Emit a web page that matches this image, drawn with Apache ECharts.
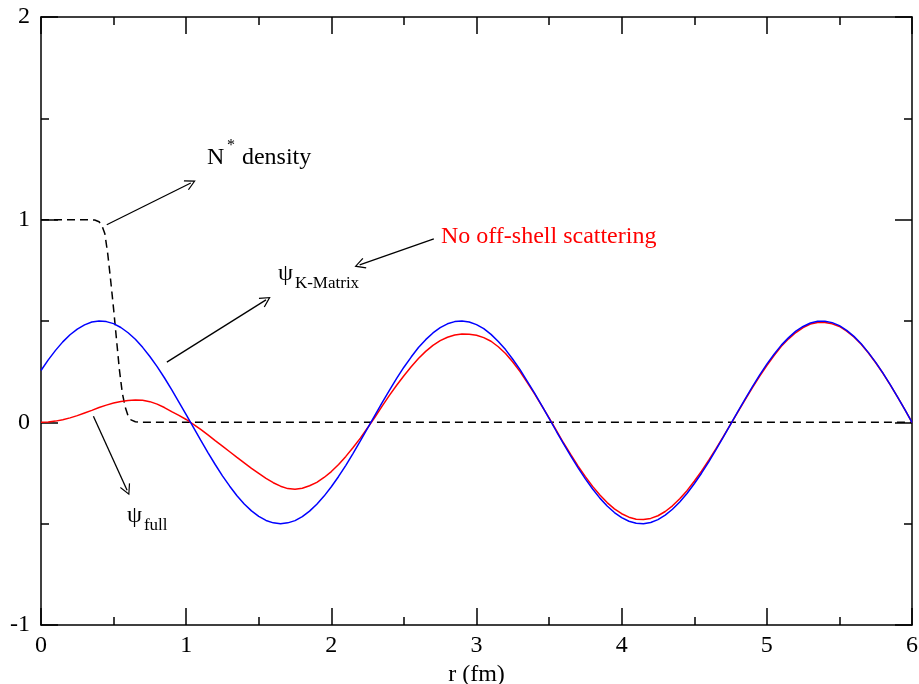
<!DOCTYPE html>
<html>
<head>
<meta charset="utf-8">
<title>N* density and wave functions</title>
<script src="https://cdn.jsdelivr.net/npm/echarts@6/dist/echarts.min.js"></script>
<style>
html,body{margin:0;padding:0;background:#fff;}
#main{width:919px;height:684px;}
</style>
</head>
<body>
<div id="main"></div>
<script>
// r grid (fm) for the two wave functions, step 0.05
var rVals = [0.00,0.05,0.10,0.15,0.20,0.25,0.30,0.35,0.40,0.45,
             0.50,0.55,0.60,0.65,0.70,0.75,0.80,0.85,0.90,0.95,
             1.00,1.05,1.10,1.15,1.20,1.25,1.30,1.35,1.40,1.45,
             1.50,1.55,1.60,1.65,1.70,1.75,1.80,1.85,1.90,1.95,
             2.00,2.05,2.10,2.15,2.20,2.25,2.30,2.35,2.40,2.45,
             2.50,2.55,2.60,2.65,2.70,2.75,2.80,2.85,2.90,2.95,
             3.00,3.05,3.10,3.15,3.20,3.25,3.30,3.35,3.40,3.45,
             3.50,3.55,3.60,3.65,3.70,3.75,3.80,3.85,3.90,3.95,
             4.00,4.05,4.10,4.15,4.20,4.25,4.30,4.35,4.40,4.45,
             4.50,4.55,4.60,4.65,4.70,4.75,4.80,4.85,4.90,4.95,
             5.00,5.05,5.10,5.15,5.20,5.25,5.30,5.35,5.40,5.45,
             5.50,5.55,5.60,5.65,5.70,5.75,5.80,5.85,5.90,5.95,
             6.00];

// psi K-Matrix (blue)
var psiKMatrix = [0.256,0.308,0.355,0.397,0.432,0.460,0.481,0.495,0.500,0.497,
                  0.487,0.468,0.442,0.410,0.370,0.325,0.275,0.220,0.161,0.100,
                  0.038,-0.025,-0.088,-0.149,-0.208,-0.264,-0.315,-0.362,-0.403,-0.437,
                  -0.464,-0.484,-0.496,-0.500,-0.496,-0.485,-0.465,-0.438,-0.404,-0.364,
                  -0.318,-0.267,-0.212,-0.153,-0.092,-0.029,0.034,0.097,0.158,0.217,
                  0.272,0.322,0.369,0.408,0.441,0.467,0.486,0.497,0.500,0.495,
                  0.482,0.462,0.434,0.399,0.359,0.311,0.260,0.202,0.144,0.083,
                  0.020,-0.044,-0.106,-0.167,-0.225,-0.279,-0.329,-0.374,-0.413,-0.445,
                  -0.470,-0.488,-0.498,-0.500,-0.494,-0.480,-0.458,-0.429,-0.393,-0.351,
                  -0.303,-0.251,-0.195,-0.135,-0.073,-0.010,0.053,0.115,0.175,0.233,
                  0.287,0.336,0.381,0.418,0.450,0.473,0.490,0.499,0.499,0.492,
                  0.477,0.454,0.424,0.388,0.344,0.296,0.243,0.186,0.126,0.064,
                  0.000];

// psi full (red)
var psiFull = [0.000,0.002,0.006,0.013,0.022,0.033,0.046,0.059,0.073,0.085,
               0.095,0.103,0.108,0.110,0.109,0.102,0.090,0.073,0.053,0.034,
               0.014,-0.010,-0.035,-0.062,-0.090,-0.117,-0.145,-0.173,-0.200,-0.227,
               -0.252,-0.277,-0.298,-0.315,-0.327,-0.330,-0.325,-0.313,-0.296,-0.272,
               -0.243,-0.208,-0.168,-0.124,-0.078,-0.027,0.025,0.080,0.133,0.183,
               0.230,0.274,0.315,0.350,0.380,0.403,0.420,0.431,0.436,0.435,
               0.430,0.418,0.400,0.373,0.340,0.298,0.250,0.196,0.140,0.081,
               0.022,-0.040,-0.102,-0.160,-0.216,-0.268,-0.316,-0.359,-0.396,-0.427,
               -0.451,-0.468,-0.478,-0.480,-0.474,-0.461,-0.440,-0.412,-0.377,-0.337,
               -0.291,-0.241,-0.187,-0.130,-0.070,-0.010,0.050,0.111,0.170,0.227,
               0.280,0.330,0.375,0.412,0.443,0.467,0.485,0.493,0.493,0.486,
               0.473,0.450,0.421,0.385,0.342,0.294,0.242,0.185,0.126,0.064,
               0.000];

// N* density (dashed)
var densR = [0, 0.32, 0.37, 0.40, 0.42, 0.44, 0.46, 0.48, 0.50, 0.52, 0.54, 0.56, 0.58, 0.60, 0.62, 0.65, 0.70, 6.0];
var densV = [1, 1, 0.998, 0.99, 0.97, 0.93, 0.83, 0.70, 0.56, 0.41, 0.26, 0.145, 0.075, 0.032, 0.012, 0.003, 0, 0];

// annotation arrows [from, to] in data units
var arrows = [
  [[0.453, 0.975], [1.032, 1.181]],
  [[0.867, 0.297], [1.550, 0.604]],
  [[2.706, 0.905], [2.195, 0.777]],
  [[0.361, 0.030], [0.593, -0.335]]
];

// annotation texts: anchor in data units, pixel offset from anchor
var notes = [
  {at: [1.143, 1.307], dx: 0,  dy: 0,   text: 'N',        size: 24, color: '#000'},
  {at: [1.143, 1.307], dx: 20, dy: -12, text: '*',        size: 16, color: '#000'},
  {at: [1.143, 1.307], dx: 35, dy: 0,   text: 'density',  size: 24, color: '#000'},
  {at: [2.755, 0.918], dx: 0,  dy: 0,   text: 'No off-shell scattering', size: 24, color: '#ff0000'},
  {at: [1.632, 0.735], dx: 0,  dy: 0,   text: 'ψ',        size: 24, color: '#000'},
  {at: [1.632, 0.735], dx: 17, dy: 10,  text: 'K-Matrix', size: 17, color: '#000'},
  {at: [0.592, -0.462], dx: 0, dy: 0,   text: 'ψ',        size: 24, color: '#000'},
  {at: [0.592, -0.462], dx: 17, dy: 10, text: 'full',     size: 17, color: '#000'}
];

var serif = '"Liberation Serif", "DejaVu Serif", serif';
var arrowHead = 'path://M5,0 L10,9.4 L9.1,10 L5,2.3 L0.9,10 L0,9.4 Z';

function pairs(xs, ys) {
  return xs.map(function (x, i) { return [x, ys[i]]; });
}

function makeAxis(min, max, position, showLabel) {
  return {
    type: 'value',
    min: min,
    max: max,
    interval: 1,
    position: position,
    axisLine: {show: true, onZero: false, lineStyle: {color: '#000', width: 1.5}},
    axisTick: {show: true, inside: true, length: 17, lineStyle: {color: '#000', width: 1.5}},
    minorTick: {show: true, splitNumber: 2, length: 8, lineStyle: {color: '#000', width: 1.5}},
    splitLine: {show: false},
    minorSplitLine: {show: false},
    axisLabel: {show: showLabel, color: '#000', fontFamily: serif, fontSize: 24, margin: 9}
  };
}

var xBottom = makeAxis(0, 6, 'bottom', true);
xBottom.name = 'r (fm)';
xBottom.nameLocation = 'middle';
xBottom.nameGap = 24;
xBottom.nameTextStyle = {color: '#000', fontFamily: serif, fontSize: 24};
var xTop = makeAxis(0, 6, 'top', false);
var yLeft = makeAxis(-1, 2, 'left', true);
yLeft.axisLabel.margin = 11;
var yRight = makeAxis(-1, 2, 'right', false);

var option = {
  backgroundColor: '#fff',
  animation: false,
  grid: {left: 41, right: 7, top: 17, bottom: 59, containLabel: false, outerBoundsMode: 'none'},
  xAxis: [xBottom, xTop],
  yAxis: [yLeft, yRight],
  series: [
    {
      name: 'N* density',
      type: 'line',
      data: pairs(densR, densV),
      showSymbol: false,
      lineStyle: {color: '#000', width: 1.5, type: [8, 5]},
      silent: true,
      markLine: {
        silent: true,
        symbol: ['none', arrowHead],
        symbolSize: 11,
        label: {show: false},
        lineStyle: {color: '#000', width: 1.3, type: 'solid'},
        data: arrows.map(function (a) { return [{coord: a[0]}, {coord: a[1]}]; })
      }
    },
    {
      name: 'psi full',
      type: 'line',
      data: pairs(rVals, psiFull),
      showSymbol: false,
      silent: true,
      lineStyle: {color: '#ff0000', width: 1.5}
    },
    {
      name: 'psi K-Matrix',
      type: 'line',
      data: pairs(rVals, psiKMatrix),
      showSymbol: false,
      silent: true,
      lineStyle: {color: '#0000ff', width: 1.5}
    }
  ]
};

var chart = echarts.init(document.getElementById('main'));
chart.setOption(option);

// place the text notes through the axes
var texts = notes.map(function (n) {
  var p = chart.convertToPixel({xAxisIndex: 0, yAxisIndex: 0}, n.at);
  return {
    type: 'text',
    x: p[0] + n.dx,
    y: p[1] + n.dy,
    silent: true,
    style: {
      text: n.text,
      fill: n.color,
      fontFamily: serif,
      fontSize: n.size,
      align: 'left',
      verticalAlign: 'middle'
    }
  };
});
chart.setOption({graphic: texts});
</script>
</body>
</html>
